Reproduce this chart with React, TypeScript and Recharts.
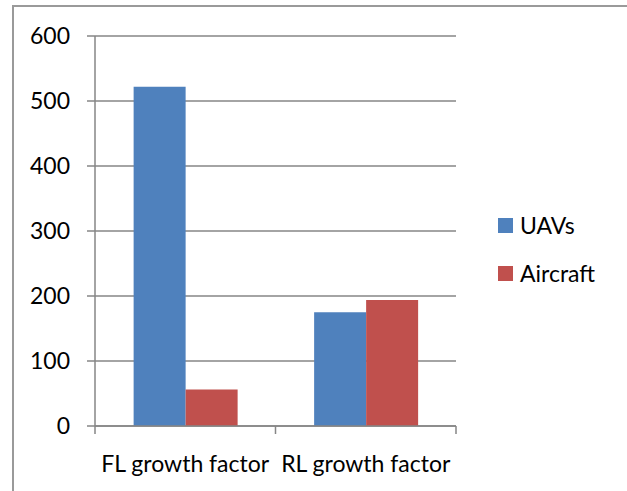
import React from 'react';
import { BarChart, Bar, XAxis, YAxis, CartesianGrid } from 'recharts';

const categories = ['FL growth factor', 'RL growth factor'];
const uavValues = [522, 175];
const aircraftValues = [56, 194];
const yTicks = [0, 100, 200, 300, 400, 500, 600];

const series = [
  { key: 'UAVs', values: uavValues, color: '#4F81BD' },
  { key: 'Aircraft', values: aircraftValues, color: '#C0504D' },
];

const data = categories.map((name, i) => ({
  name,
  UAVs: uavValues[i],
  Aircraft: aircraftValues[i],
}));

const FONT = 'Lato, "Open Sans", sans-serif';
const AXIS = '#868686';
const FS = 23;

// Excel puts the x ticks on the category boundaries, not the centres
const XTick = (props: any) => {
  const { x, y, payload, index } = props;
  const half = 180.5 / 2;
  return (
    <g>
      <line x1={x - half} y1={y - 8} x2={x - half} y2={y} stroke={AXIS} strokeWidth={1.5} />
      {index === categories.length - 1 && (
        <line x1={x + half} y1={y - 8} x2={x + half} y2={y} stroke={AXIS} strokeWidth={1.5} />
      )}
      <text x={x} y={y + 38} textAnchor="middle" fill="#000" fontSize={FS} fontFamily={FONT}>
        {payload.value}
      </text>
    </g>
  );
};

export default function App() {
  return (
    <div style={{ position: 'absolute', left: 0, top: 0, width: 627, height: 491, background: '#fff', overflow: 'hidden' }}>
      <div
        style={{
          position: 'absolute',
          left: 12,
          top: 5,
          width: 613,
          height: 520,
          borderLeft: '2px solid #9a9a9a',
          borderTop: '2px solid #9a9a9a',
          borderRight: '1px solid #d0d0d0',
        }}
      />
      <div style={{ position: 'absolute', left: 0, top: 0 }}>
        <BarChart
          width={627}
          height={491}
          data={data}
          margin={{ top: 36, right: 171, left: 0, bottom: 0 }}
          barCategoryGap="21.4%"
          barGap={0}
        >
          <CartesianGrid vertical={false} stroke={AXIS} strokeWidth={1.5} />
          <XAxis
            dataKey="name"
            axisLine={{ stroke: AXIS, strokeWidth: 1.5 }}
            tickLine={false}
            tick={<XTick />}
            interval={0}
            height={65}
          />
          <YAxis
            domain={[0, 600]}
            ticks={yTicks}
            width={95}
            axisLine={{ stroke: AXIS, strokeWidth: 1.5 }}
            tickLine={{ stroke: AXIS, strokeWidth: 1.5 }}
            tickSize={8}
            tickMargin={17}
            tick={{ fill: '#000', fontSize: FS, fontFamily: FONT }}
          />
          {series.map((s) => (
            <Bar key={s.key} dataKey={s.key} fill={s.color} isAnimationActive={false} />
          ))}
        </BarChart>
      </div>
      <div style={{ position: 'absolute', left: 498, top: 201, fontFamily: FONT, fontSize: FS }}>
        {series.map((s) => (
          <div key={s.key} style={{ display: 'flex', alignItems: 'center', height: 48 }}>
            <span style={{ width: 15, height: 15, background: s.color, display: 'inline-block', marginRight: 7 }} />
            <span style={{ color: '#000' }}>{s.key}</span>
          </div>
        ))}
      </div>
    </div>
  );
}
